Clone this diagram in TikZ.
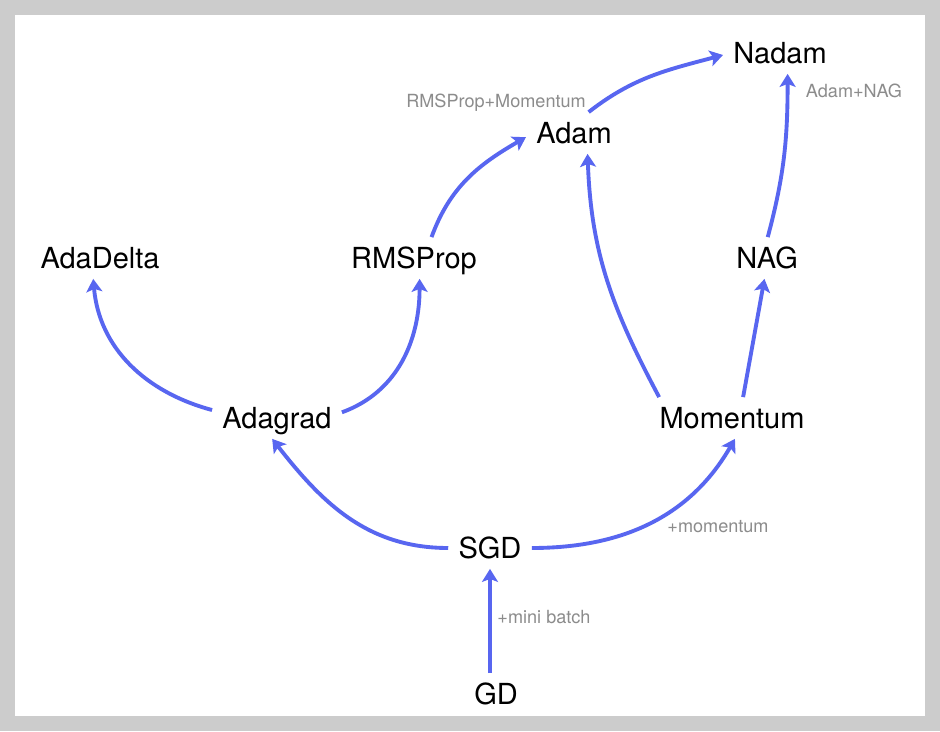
\documentclass[tikz,border=0pt]{standalone}
\usepackage{fontspec}
\setmainfont{TeX Gyre Heros}
\usetikzlibrary{arrows.meta}
\definecolor{flowblue}{RGB}{88,102,240}
\definecolor{framegray}{RGB}{204,204,204}
\tikzset{
	algo/.style={font=\fontsize{16.5}{20}\selectfont, inner sep=2mm, text height=12pt, text depth=0pt},
	note/.style={font=\fontsize{10.3}{12}\selectfont, text=black!45},
	flow/.style={line width=2.2pt, color=flowblue, -{Stealth[length=2.6mm, width=3.2mm, inset=0.6mm]}},
}

\begin{document}
\begin{tikzpicture}[x=0.2mm, y=0.2mm]
			%%%%% FRAME %%%%%
			
			\fill[framegray] (0, 0) rectangle (940, 731);
			\fill[white] (15, 15) rectangle (925, 716);
			
			%%%%% NODES %%%%%
			
			\node[algo] (GD) at (496, 37) {GD};
			\node[algo] (SGD) at (490, 183) {SGD};
			\node[algo] (Adagrad) at (277, 313) {Adagrad};
			\node[algo] (Momentum) at (732, 313) {Momentum};
			\node[algo] (AdaDelta) at (100, 473) {AdaDelta};
			\node[algo] (RMSProp) at (414, 473) {RMSProp};
			\node[algo] (NAG) at (767, 473) {NAG};
			\node[algo] (Adam) at (574, 598) {Adam};
			\node[algo] (Nadam) at (780, 678) {Nadam};
			
			\node[note] (miniLbl) at (544, 114) {+mini batch};
			\node[note] (momLbl) at (718, 204) {+momentum};
			\node[note] (rmsmomLbl) at (496, 628) {RMSProp+Momentum};
			\node[note] (adamnagLbl) at (854, 640) {Adam+NAG};
			
			%%%%% ARROWS %%%%%
			
			\draw[flow] (GD.north -| SGD.south) -- (SGD.south);
			\draw[flow] (SGD.west) to[out=180, in=-52] (Adagrad.-103);
			\draw[flow] (SGD.east) to[out=0, in=-120] (Momentum.-82);
			
			\draw[flow] (Adagrad.173) to[out=165, in=-85] (AdaDelta.-108);
			\draw[flow] (Adagrad.5) to[out=20, in=-90] (RMSProp.-75);
			
			\draw[flow] (RMSProp.50) to[out=70, in=210] (Adam.185);
			\draw[flow] (Momentum.164) to[out=118, in=-88] (Adam.-57);
			\draw[flow] (Momentum.62) -- (NAG.-97);
			
			\draw[flow] (NAG.88) to[out=75, in=-90] (Nadam.-70);
			\draw[flow] (Adam.55) to[out=38, in=195] (Nadam.182);
			
			%%%%% END %%%%%
\end{tikzpicture}
\end{document}
